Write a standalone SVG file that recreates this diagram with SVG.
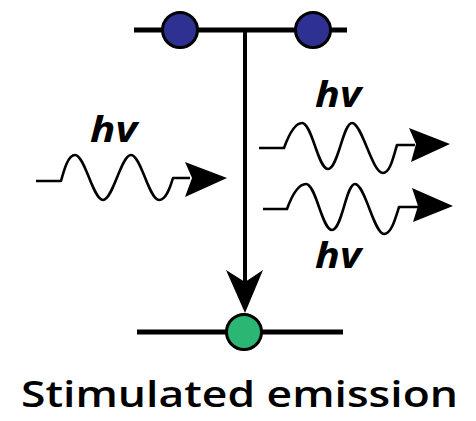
<svg xmlns="http://www.w3.org/2000/svg" width="476" height="421" viewBox="0 0 476 421">
<style>
.level{stroke:#000;stroke-width:5;fill:none}
.wave{stroke:#000;stroke-width:2.6;fill:none;stroke-linejoin:round}
.head{fill:#000}
.atom{stroke:#000;stroke-width:3}
.hv{font-family:"Open Sans","Liberation Sans",sans-serif;font-weight:700;font-style:italic;font-size:36px;fill:#000}
.title{font-family:"Open Sans","Liberation Sans",sans-serif;font-weight:600;font-size:36px;fill:#000}
</style>
<rect width="476" height="421" fill="#fff"/>
<g id="upper-level">
<line class="level" x1="134" y1="30" x2="347" y2="30"/>
<circle class="atom" cx="180" cy="30" r="17.5" fill="#2e3192"/>
<circle class="atom" cx="313" cy="30" r="17.5" fill="#2e3192"/>
</g>
<g id="lower-level">
<line class="level" x1="137" y1="332" x2="343" y2="332"/>
<circle class="atom" cx="244" cy="332" r="17.5" fill="#2bb673"/>
</g>
<g id="connectors">
<line x1="245" y1="30" x2="245" y2="284" stroke="#000" stroke-width="4"/>
<polygon class="head" points="226,270 245,282 263,270 245,313"/>
</g>
<g id="photon-in">
<path class="wave" d="M36,181 H61 C64,170 68,155 75,155 C85,155 93,200 103,200 C113,200 121,155 131,155 C141,155 149,200 159,200 C166,200 170,188 173,178 H190"/>
<polygon class="head" points="185,162 227,178 185,197 192,178"/>
<text class="hv" x="90" y="142" textLength="47" lengthAdjust="spacingAndGlyphs">hv</text>
</g>
<g id="photon-out-1">
<path class="wave" d="M259,148 H284 C288,137 294,123 302,123 C312,123 318,169 328,169 C338,169 343,123 352,123 C362,123 372,173 383,173 C390,173 393,158 397,145 H415"/>
<polygon class="head" points="409,128 450,144 411,162 416,144"/>
<text class="hv" x="315" y="107" textLength="46" lengthAdjust="spacingAndGlyphs">hv</text>
</g>
<g id="photon-out-2">
<path class="wave" d="M263,209 H287 C291,198 298,184 306,184 C316,184 322,230 332,230 C342,230 346,184 355,184 C365,184 374,234 384,234 C391,234 395,220 399,207 H418"/>
<polygon class="head" points="412,188 453,206 413,222 418,206"/>
<text class="hv" x="315" y="268" textLength="46" lengthAdjust="spacingAndGlyphs">hv</text>
</g>
<text class="title" x="21" y="407" textLength="437" lengthAdjust="spacingAndGlyphs">Stimulated emission</text>
</svg>
